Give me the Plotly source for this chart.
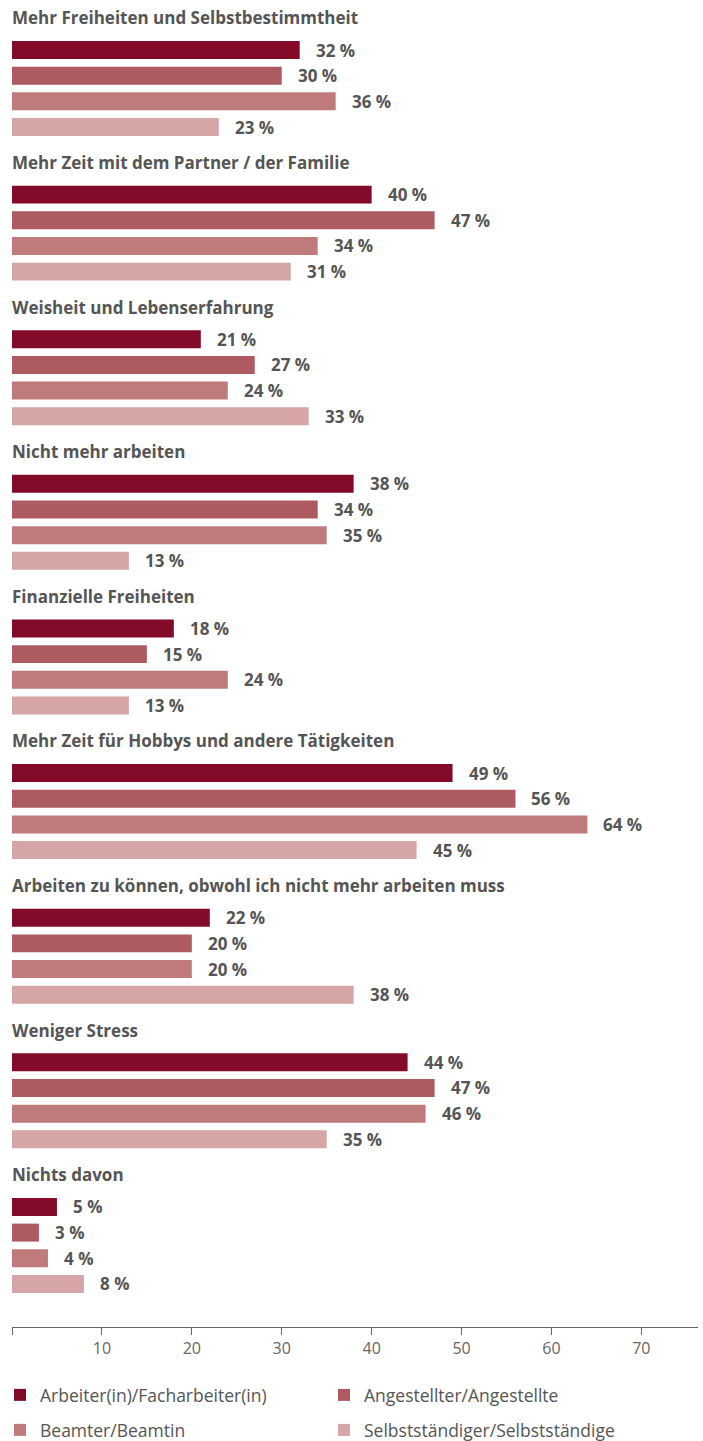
import plotly.graph_objects as go

categories = [
    "Mehr Freiheiten und Selbstbestimmtheit",
    "Mehr Zeit mit dem Partner / der Familie",
    "Weisheit und Lebenserfahrung",
    "Nicht mehr arbeiten",
    "Finanzielle Freiheiten",
    "Mehr Zeit für Hobbys und andere Tätigkeiten",
    "Arbeiten zu können, obwohl ich nicht mehr arbeiten muss",
    "Weniger Stress",
    "Nichts davon",
]
series_names = [
    "Arbeiter(in)/Facharbeiter(in)",
    "Angestellter/Angestellte",
    "Beamter/Beamtin",
    "Selbstständiger/Selbstständige",
]
arbeiter = [32, 40, 21, 38, 18, 49, 22, 44, 5]
angestellte = [30, 47, 27, 34, 15, 56, 20, 47, 3]
beamte = [36, 34, 24, 35, 24, 64, 20, 46, 4]
selbst = [23, 31, 33, 13, 13, 45, 38, 35, 8]
tick_values = [0, 10, 20, 30, 40, 50, 60, 70]
tick_labels = ["", "10", "20", "30", "40", "50", "60", "70"]

series = [arbeiter, angestellte, beamte, selbst]
colors = ["#840A29", "#AD5B60", "#BF7B7C", "#D6A5A6"]

GROUP_PITCH = 5.634
TITLE_OFFSET = -1.25
TEXT = "#555555"
FONT = "Open Sans"

fig = go.Figure()
for j, (name, vals, col) in enumerate(zip(series_names, series, colors)):
    ys = [g * GROUP_PITCH + j for g in range(len(categories))]
    fig.add_trace(go.Bar(
        x=vals, y=ys, orientation="h", name=name,
        marker=dict(color=col, line=dict(width=0)),
        width=0.70,
        legend="legend" if j < 2 else "legend2",
        hoverinfo="x+name",
    ))
    for v, y in zip(vals, ys):
        fig.add_annotation(
            x=v, y=y, xref="x", yref="y", text=f"<b>{v} %</b>",
            showarrow=False, xanchor="left", yanchor="middle", xshift=14,
            font=dict(family=FONT, size=17, color=TEXT),
        )

for g, cat in enumerate(categories):
    fig.add_annotation(
        x=0, y=g * GROUP_PITCH + TITLE_OFFSET, xref="paper", yref="y",
        text=f"<b>{cat}</b>", showarrow=False, xanchor="left", yanchor="middle",
        xshift=-2,
        font=dict(family=FONT, size=17, color=TEXT),
    )

H = 1441
plot_h = 1327
legend_common = dict(
    orientation="h", x=0, xref="container", xanchor="left",
    yref="container", yanchor="middle",
    entrywidth=279, entrywidthmode="pixels",
    font=dict(family=FONT, size=17.5, color=TEXT), itemclick=False,
    bgcolor="rgba(0,0,0,0)",
)
fig.update_layout(
    width=703, height=H,
    margin=dict(l=12, r=5, t=0, b=H - plot_h, autoexpand=False),
    paper_bgcolor="white", plot_bgcolor="white",
    barmode="overlay",
    font=dict(family=FONT, color=TEXT),
    xaxis=dict(
        range=[0, 76.3], tickvals=tick_values, ticktext=tick_labels,
        showgrid=False, zeroline=False, showline=True, linecolor="#666666",
        linewidth=1, ticks="outside", ticklen=7, tickcolor="#666666",
        tickfont=dict(family=FONT, size=16, color="#666666"),
        fixedrange=True,
    ),
    yaxis=dict(
        range=[49.75, -1.948], showticklabels=False, showgrid=False,
        zeroline=False, showline=False, fixedrange=True,
    ),
    legend=dict(legend_common, y=(H - 1395) / H),
    legend2=dict(legend_common, y=(H - 1430) / H),
    showlegend=True,
)

fig.write_html("out.html")
